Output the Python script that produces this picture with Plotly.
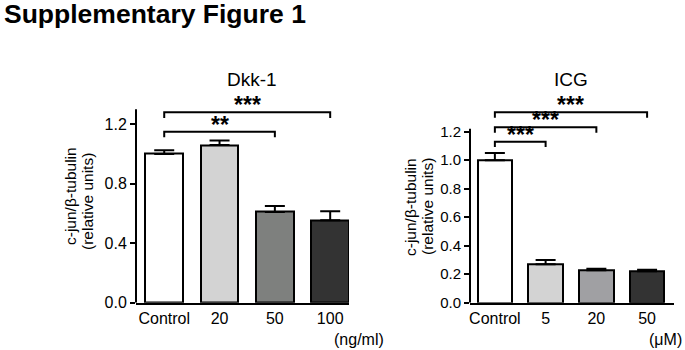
import plotly.graph_objects as go

# ---- data ----
dkk_categories = ["Control", "20", "50", "100"]
dkk_values = [1.00, 1.06, 0.61, 0.555]
dkk_errors = [0.025, 0.03, 0.04, 0.06]
dkk_colors = ["#ffffff", "#d3d3d3", "#7e807e", "#333333"]
dkk_ticks = [0.0, 0.4, 0.8, 1.2]
dkk_brackets = [("Control", "100", 1.28, "***"), ("Control", "50", 1.15, "**")]

icg_categories = ["Control", "5", "20", "50"]
icg_values = [1.00, 0.27, 0.227, 0.22]
icg_errors = [0.05, 0.03, 0.012, 0.011]
icg_colors = ["#ffffff", "#d3d3d3", "#a0a0a3", "#333333"]
icg_ticks = [0.0, 0.2, 0.4, 0.6, 0.8, 1.0, 1.2]
icg_brackets = [("Control", "50", 1.336, "***"), ("Control", "20", 1.231, "***"),
                ("Control", "5", 1.13, "***")]

FONT = "Liberation Sans, Arial, sans-serif"
W, H = 685, 350

fig = go.Figure()

def add_panel(cats, vals, errs, colors, brackets, xa, ya):
    fig.add_trace(go.Bar(
        x=cats, y=vals, width=0.68,
        marker=dict(color=colors, line=dict(color="black", width=2)),
        error_y=dict(type="data", array=errs, arrayminus=[0] * len(errs),
                     symmetric=False, color="black", thickness=2, width=10),
        xaxis=xa, yaxis=ya, showlegend=False, hoverinfo="skip"))
    d = 0.038
    for a, b, h, lab in brackets:
        fig.add_trace(go.Scatter(
            x=[a, a, b, b], y=[h - d, h, h, h - d], mode="lines",
            line=dict(color="black", width=2), xaxis=xa, yaxis=ya,
            showlegend=False, hoverinfo="skip"))
        ia, ib = cats.index(a), cats.index(b)
        fig.add_annotation(x=(ia + ib) / 2, y=h, xref=xa, yref=ya,
                           text=f"<b>{lab}</b>", showarrow=False, yanchor="bottom", yshift=-8,
                           font=dict(family=FONT, size=23, color="black"))

add_panel(dkk_categories, dkk_values, dkk_errors, dkk_colors, dkk_brackets, "x", "y")
add_panel(icg_categories, icg_values, icg_errors, icg_colors, icg_brackets, "x2", "y2")

axis_common = dict(showgrid=False, zeroline=False, color="black", automargin=False)

fig.update_layout(
    template="none",
    width=W, height=H, autosize=False, margin=dict(l=0, r=0, t=0, b=0, pad=0),
    paper_bgcolor="white", plot_bgcolor="white",
    font=dict(family=FONT, color="black"),
    bargap=0,
    xaxis=dict(domain=[136 / W, 349 / W], type="category", categoryarray=dkk_categories,
               range=[-0.51, 3.34], showline=True, linewidth=2, linecolor="black",
               ticks="", ticklen=0, tickfont=dict(size=16), **axis_common),
    yaxis=dict(domain=[1 - 302.7 / H, 1 - 94.5 / H], range=[0, 1.4], anchor="x",
               tickvals=dkk_ticks, ticktext=[f"{v:.1f}" for v in dkk_ticks],
               ticks="outside", ticklen=5, tickwidth=2, tickcolor="black",
               showline=False, tickfont=dict(size=16), **axis_common),
    xaxis2=dict(domain=[470 / W, 674 / W], type="category", categoryarray=icg_categories,
                range=[-0.49, 3.53], showline=True, linewidth=2, linecolor="black",
                ticks="", ticklen=0, tickfont=dict(size=16), anchor="y2", **axis_common),
    yaxis2=dict(domain=[1 - 302.7 / H, 1 - 103.2 / H], range=[0, 1.4], anchor="x2",
                tickvals=icg_ticks, ticktext=[f"{v:.1f}" for v in icg_ticks],
                ticks="outside", ticklen=5, tickwidth=2, tickcolor="black",
                showline=False, tickfont=dict(size=15), **axis_common),
)

# y axis lines (stop at top of axis, brackets drawn above)
fig.add_shape(type="line", xref="x domain", yref="y", x0=0, x1=0, y0=0, y1=1.3,
              line=dict(color="black", width=2))
fig.add_shape(type="line", xref="x2 domain", yref="y2", x0=0, x1=0, y0=0, y1=1.22,
              line=dict(color="black", width=2))

def ann(text, x, y, size, bold=False, angle=0, xanchor="center"):
    fig.add_annotation(text=f"<b>{text}</b>" if bold else text, x=x / W, y=1 - y / H,
                       xref="paper", yref="paper", showarrow=False, textangle=angle,
                       xanchor=xanchor, yanchor="middle",
                       font=dict(family=FONT, size=size, color="black"))

ann("Supplementary Figure 1", 2, 14, 26.5, bold=True, xanchor="left")
ann("Dkk-1", 251.7, 80, 19)
ann("ICG", 570.5, 80, 19)
ann("c-jun/β-tubulin", 70, 196, 15.5, angle=-90)
ann("(relative units)", 87, 201, 15.5, angle=-90)
ann("c-jun/β-tubulin", 410, 207, 15.5, angle=-90)
ann("(relative units)", 427, 207, 15.5, angle=-90)
ann("(ng/ml)", 359, 339, 16)
ann("(μM)", 684, 339, 16, xanchor="right")

page_css = (
    "var s=document.createElement('style');"
    "s.textContent='html,body{margin:0;padding:0;overflow:hidden;}';"
    "document.head.appendChild(s);"
)
fig.write_html("out.html", config={"displayModeBar": False, "responsive": False},
               post_script=page_css)
